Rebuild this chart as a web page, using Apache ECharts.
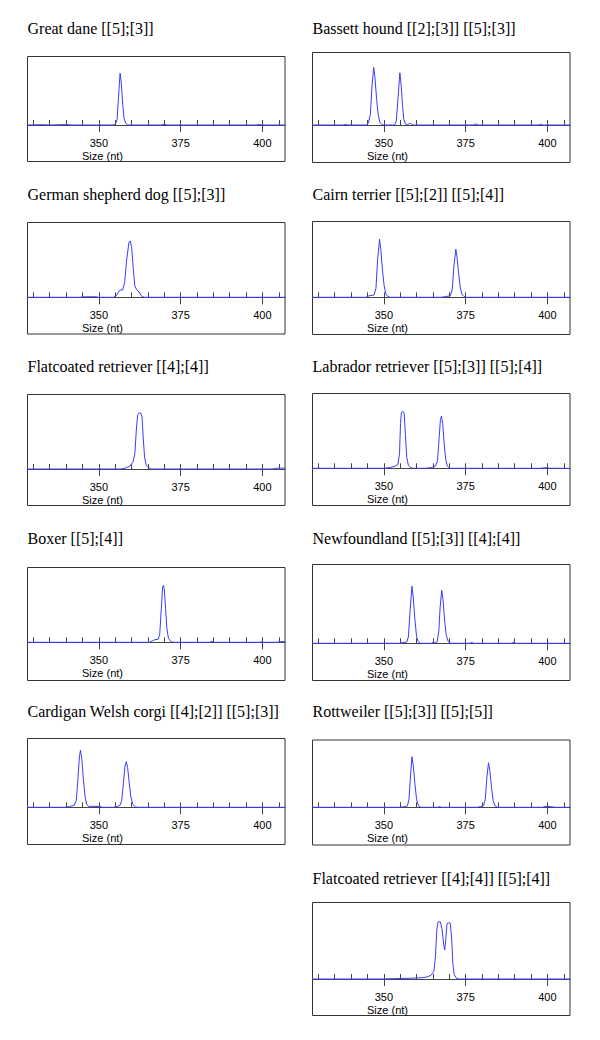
<!DOCTYPE html>
<html>
<head>
<meta charset="utf-8">
<script src="https://cdn.jsdelivr.net/npm/echarts@6/dist/echarts.min.js"></script>
<style>
html,body{margin:0;padding:0;background:#fff;}
#chart{width:600px;height:1040px;}
</style>
</head>
<body>
<div id="chart"></div>
<script>
// ---------------- DATA ----------------
const PANEL_TITLES = [
  'Great dane [[5];[3]]',
  'Bassett hound [[2];[3]] [[5];[3]]',
  'German shepherd dog [[5];[3]]',
  'Cairn terrier [[5];[2]] [[5];[4]]',
  'Flatcoated retriever [[4];[4]]',
  'Labrador retriever [[5];[3]] [[5];[4]]',
  'Boxer [[5];[4]]',
  'Newfoundland [[5];[3]] [[4];[4]]',
  'Cardigan Welsh corgi [[4];[2]] [[5];[3]]',
  'Rottweiler [[5];[3]] [[5];[5]]',
  'Flatcoated retriever [[4];[4]] [[5];[4]]'
];
const AXIS_NAME = 'Size (nt)';
const MAJOR_TICKS = [350, 375, 400];
const MINOR_TICKS = [330, 335, 340, 345, 350, 355, 360, 365, 370, 375, 380, 385, 390, 395, 400, 405];
const X_MIN = 328.2;
const X_MAX = 406.9;

// traces: [size (nt), relative signal]
const greatDane = [[328,0],[333,0.5],[335,0],[340,0.6],[342,0],[354.6,0],[355.1,2],[355.6,8],[356.0,40],[356.5,75.7],[356.9,60],[357.3,30],[357.7,10],[358.2,3],[358.8,0],[369,0],[370,0.8],[371,0],[398,0],[399,0.6],[400,0],[407,0]];
const bassettHound = [[328,0],[337.5,0],[338.2,0.8],[339,0],[344.8,0],[345.3,3],[345.9,15],[346.4,55],[346.9,79.4],[347.3,65],[347.8,35],[348.3,14],[348.8,4],[349.4,0.5],[350,0],[353.3,0],[353.8,5],[354.3,35],[354.9,72],[355.3,55],[355.7,28],[356.1,8],[356.6,1.5],[357.2,0.5],[357.8,2],[358.4,1.5],[359,0],[377.3,0],[378,1.5],[378.8,0],[397.2,0],[397.9,1.2],[398.6,0],[407,0]];
const germanShepherd = [[328,0],[344,0],[345.5,0.7],[349,0.7],[350,0],[354.5,0],[355.3,2],[356.0,7],[356.5,9.8],[357.3,10],[357.9,20],[358.5,50],[359.2,73],[359.6,75.4],[360.0,68],[360.5,40],[361.0,15],[361.6,10],[362.3,7],[363,2],[363.8,0],[407,0]];
const cairnTerrier = [[328,0],[344.5,0],[345.5,2],[347,3],[347.6,12],[348.1,50],[348.7,76.6],[349.1,62],[349.6,35],[350.1,15],[350.6,5],[351.2,1],[352,0],[367.5,0],[369,1],[370.3,2],[370.9,10],[371.4,40],[372.0,63.4],[372.4,52],[372.9,30],[373.4,12],[373.9,4],[374.5,1],[375.2,0],[407,0]];
const flatcoated1 = [[328,0],[356.5,0],[358,1],[359.5,4],[360.4,9],[361.0,20],[361.5,55],[361.9,73],[362.3,75.4],[362.8,75],[363.2,70],[363.6,40],[364.0,15],[364.5,5],[365.2,1.5],[366,0],[403,0],[404,0.8],[405,1.2],[407,1]];
const labrador = [[328,0],[350,0],[352,1],[353.5,3],[354.3,5],[354.8,20],[355.1,60],[355.4,75],[355.8,76.4],[356.2,74],[356.6,45],[357.0,15],[357.5,4],[358.2,1],[359,0],[363,0],[364.5,1],[365.8,3],[366.4,10],[366.9,40],[367.3,65],[367.6,69.8],[368.0,60],[368.4,35],[368.9,12],[369.4,3],[370.2,0],[398,0],[399.5,0.8],[401,0],[407,0]];
const boxer = [[328,0],[365.5,0],[366.4,2],[367.2,3.6],[368.1,4],[368.6,10],[369.1,45],[369.5,74],[369.7,76],[370.0,72],[370.4,45],[370.8,18],[371.3,5],[372.2,0.5],[373,0],[383.8,0],[384.5,1.2],[385.2,0],[399.3,0],[399.8,0.8],[400.3,0],[404.5,0],[405.5,1],[407,0.8]];
const newfoundland = [[328,0],[355,0],[355.8,1],[357.0,1.5],[357.5,8],[358.0,40],[358.6,72.5],[359.0,58],[359.5,30],[360.0,9],[360.5,2],[361.2,0],[364.5,0],[365,1.2],[365.6,0.5],[366.3,2],[366.8,15],[367.2,45],[367.7,67.4],[368.1,55],[368.6,28],[369.1,10],[369.7,2],[370.5,0],[376.2,0],[376.8,1],[377.5,0],[389,0],[389.6,1.2],[390.2,0],[407,0]];
const cardiganCorgi = [[328,0],[339.5,0],[341,1],[342.5,3],[343.1,10],[343.6,40],[344.1,75],[344.4,83],[344.8,70],[345.3,40],[345.8,15],[346.3,4],[346.8,1.5],[350.5,1.2],[351,0],[354.5,0],[355.5,1],[356.5,3],[357.0,10],[357.5,35],[358.0,60],[358.4,66.2],[358.8,58],[359.3,35],[359.8,15],[360.4,4],[361.2,0.5],[362,0],[407,0]];
const rottweiler = [[328,0],[355,0],[356.3,1],[357.2,2],[357.7,12],[358.2,50],[358.6,75.2],[359.0,62],[359.5,35],[360.0,12],[360.6,2],[361.3,0],[366.5,0],[367,1.2],[367.6,0],[378.5,0],[379.5,1],[380.5,2.5],[381.0,12],[381.5,45],[382.0,66.3],[382.4,55],[382.9,30],[383.4,10],[384.0,2],[384.8,0],[398.5,0],[399.5,1.5],[401,1],[402.5,0],[407,0]];
const flatcoated2 = [[328,0],[350,0],[353,0.5],[358,1],[362,1.7],[363.5,3],[364.5,5.2],[365.3,10],[365.8,30],[366.2,65],[366.6,74.8],[367.3,74.5],[367.8,65],[368.3,45],[368.6,37.8],[368.9,50],[369.3,72],[369.7,73.5],[370.3,73],[370.7,55],[371.1,20],[371.5,6],[372.2,1],[373,0],[407,0]];

const TRACES = [greatDane, bassettHound, germanShepherd, cairnTerrier, flatcoated1, labrador, boxer, newfoundland, cardiganCorgi, rottweiler, flatcoated2];

// ---------------- LAYOUT (pixels) ----------------
const LAYOUT = [
  {left: 27.5, top: 56.5, axis: 125, bottom: 161.5, title: 28},
  {left: 312.5, top: 52.5, axis: 125, bottom: 162.5, title: 28},
  {left: 27.5, top: 222.5, axis: 297.3, bottom: 334, title: 194},
  {left: 312.5, top: 221.5, axis: 297.3, bottom: 334.5, title: 194},
  {left: 27.5, top: 394.5, axis: 469, bottom: 505.5, title: 366.7},
  {left: 312.5, top: 393.5, axis: 468.3, bottom: 505.5, title: 366.7},
  {left: 27.5, top: 567.5, axis: 642.3, bottom: 680.5, title: 538},
  {left: 312.5, top: 564.5, axis: 643.3, bottom: 680.5, title: 538},
  {left: 27.5, top: 738.5, axis: 807.3, bottom: 844.5, title: 711.7},
  {left: 312.5, top: 740, axis: 807.3, bottom: 845, title: 711.7},
  {left: 312.5, top: 902.5, axis: 979, bottom: 1015.5, title: 878.3}
];
const BOX_WIDTH = 257.5;
const LABEL_GAP = 12;
const LINE_COLOR = '#3b3bff';
const FRAME_COLOR = '#333';
const SERIF = 'Liberation Serif';
const SANS = 'Liberation Sans';

// ---------------- BUILD ----------------
const chart = echarts.init(document.getElementById('chart'), null, {renderer: 'svg'});
const grid = [], xAxis = [], yAxis = [], series = [], graphic = [];

LAYOUT.forEach((L, i) => {
  grid.push({
    left: L.left, top: L.top, width: BOX_WIDTH, height: L.bottom - L.top,
    show: true, borderColor: FRAME_COLOR, borderWidth: 1, backgroundColor: 'transparent',
    containLabel: false
  });
  const yMin = -100 * (L.bottom - L.axis) / (L.axis - L.top);
  for (let k = 0; k < 2; k++) {
    yAxis.push({gridIndex: i, type: 'value', min: yMin, max: 100, show: false});
  }
  // major ticks + labels (below axis); labels stay at the grid edge, so pull them up
  xAxis.push({
    gridIndex: i, type: 'value', position: 'bottom', min: X_MIN, max: X_MAX,
    axisLine: {show: true, onZero: true, onZeroAxisIndex: 2 * i, lineStyle: {color: '#444', width: 1}},
    axisTick: {show: true, customValues: MAJOR_TICKS, inside: false, length: 7, lineStyle: {color: '#444'}},
    axisLabel: {show: true, customValues: MAJOR_TICKS, margin: LABEL_GAP - (L.bottom - L.axis),
                fontSize: 11, fontFamily: SANS, color: '#000'},
    splitLine: {show: false}
  });
  // minor ticks (above axis)
  xAxis.push({
    gridIndex: i, type: 'value', position: 'bottom', min: X_MIN, max: X_MAX,
    axisLine: {show: false, onZero: true, onZeroAxisIndex: 2 * i + 1},
    axisTick: {show: true, customValues: MINOR_TICKS, inside: true, length: 5, lineStyle: {color: '#444'}},
    axisLabel: {show: false},
    splitLine: {show: false}
  });
  series.push({
    type: 'line', xAxisIndex: 2 * i, yAxisIndex: 2 * i,
    data: TRACES[i], showSymbol: false, symbol: 'none', clip: true,
    lineStyle: {color: LINE_COLOR, width: 1}, z: 5, silent: true
  });
  graphic.push({
    type: 'text', x: L.left, y: L.title,
    style: {text: PANEL_TITLES[i], fill: '#000', fontSize: 16, fontFamily: SERIF,
            align: 'left', verticalAlign: 'middle'}
  });
  graphic.push({
    type: 'text', x: L.left + 75, y: L.axis + 30.5,
    style: {text: AXIS_NAME, fill: '#000', fontSize: 11, fontFamily: SANS,
            align: 'center', verticalAlign: 'middle'}
  });
});

chart.setOption({
  animation: false,
  backgroundColor: '#fff',
  grid, xAxis, yAxis, series, graphic
});
</script>
</body>
</html>
